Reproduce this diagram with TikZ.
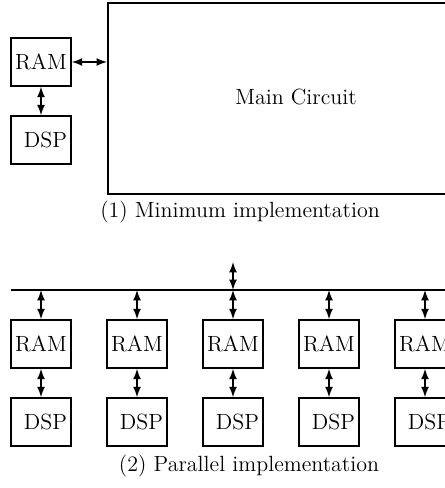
\documentclass[tikz,border=0pt]{standalone}
\usetikzlibrary{positioning}
\begin{document}
\begin{tikzpicture}[x=0.5pt,y=-0.5pt,font=\fontsize{11}{13}\selectfont,
  block/.style={draw, thick, minimum width=30pt, minimum height=24pt, inner sep=0pt},
  dspbox/.style={block, inner xsep=2pt, text width=26pt, align=right},
  link/.style={<->, >=latex, thick}]
  \useasboundingbox (0,0) rectangle (445,488);
  \clip (0,0) rectangle (445,488);

  % Minimum implementation
  \node[block] (ram) at (41,62) {RAM};
  \node[dspbox] (dsp) at (41,140) {DSP};
  \node[draw, thick, anchor=north west, minimum width=176.5pt, minimum height=95.5pt] (main) at (107,2) {};
  \node (maintext) at (296,97) {Main Circuit};
  \draw[link] (ram) -- (ram -| main.west);
  \draw[link] (ram) -- (dsp);
  \node (cap1) at (240,212) {(1) Minimum implementation};

  % Parallel implementation
  \coordinate (busL) at (11,290);
  \coordinate (busR) at (460,290);
  \coordinate (busin) at (233,262);
  \draw[thick] (busL) -- (busR);
  \draw[link] (busin) -- (busin |- busL);
  \foreach \i in {0,...,4} {
    \node[block] (ram\i) at (41+96*\i,344) {RAM};
    \node[dspbox] (dsp\i) at (41+96*\i,422) {DSP};
    \draw[link] (ram\i.north |- busL) -- (ram\i);
    \draw[link] (ram\i) -- (dsp\i);
  }
  \node (cap2) at (249,466) {(2) Parallel implementation};
\end{tikzpicture}
\end{document}
